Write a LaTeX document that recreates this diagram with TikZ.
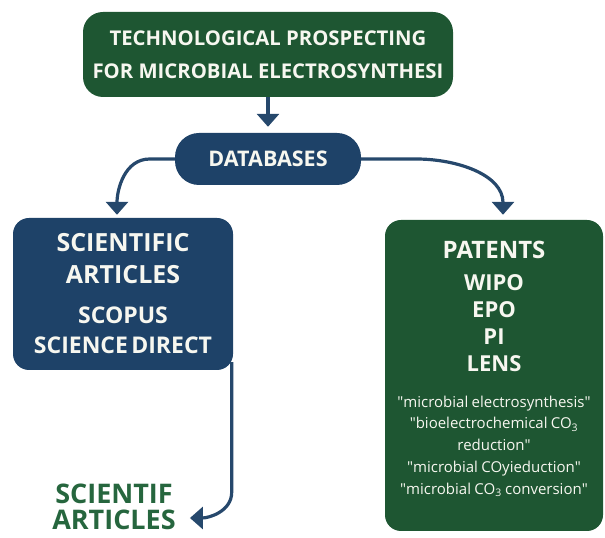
\documentclass[tikz,border=0pt]{standalone}
\usepackage{fontspec}
\setmainfont{Open Sans}
\usepackage{tikz}
\usetikzlibrary{arrows.meta, positioning, calc}
\usepackage{xcolor}
\definecolor{prospgreen}{RGB}{30,86,50}
\definecolor{prospblue}{RGB}{30,66,104}
\definecolor{prosparrow}{RGB}{38,72,108}
\definecolor{prosplabel}{RGB}{38,102,62}
\definecolor{prosptext}{RGB}{247,247,240}

\begin{document}
\begin{tikzpicture}[x=1pt, y=1pt,
    box/.style={rectangle, rounded corners=16pt, inner sep=0pt,
                text=prosptext, align=center, font=\bfseries},
    arrow/.style={-{Triangle[width=22pt,length=13pt]}, line width=3.2pt, prosparrow}
]
\useasboundingbox (0,0) rectangle (605,538);
\node[box, fill=prospgreen, rounded corners=20pt, minimum width=370pt, minimum height=85pt,
      font=\bfseries\fontsize{20.3}{33}\selectfont] (title) at (268,483.5)
      {TECHNOLOGICAL PROSPECTING\\FOR MICROBIAL ELECTROSYNTHESI};
\node[box, fill=prospblue, rounded corners=24pt, minimum width=186pt, minimum height=52pt,
      font=\bfseries\fontsize{21.5}{24}\selectfont] (db) at (268,379) {DATABASES};
\node[box, fill=prospblue, minimum width=220pt, minimum height=152pt, text width=214pt] (sci) at (123,244)
      {\fontsize{25}{32}\selectfont SCIENTIFIC\\ARTICLES\par
       \vspace{10pt}\fontsize{23}{30}\selectfont SCOPUS\\SCIENCE DIRECT\par};
\node[box, fill=prospgreen, minimum width=218pt, minimum height=311pt, text width=214pt] (pat) at (494,162.5)
      {\fontsize{24}{27}\selectfont PATENTS\par
       \vspace{5pt}\fontsize{22}{27}\selectfont WIPO\\EPO\\PI\\LENS\par
       \vspace{14pt}\fontsize{15}{21.8}\selectfont\mdseries
       \textquotedbl microbial electrosynthesis\textquotedbl\\
       \textquotedbl bioelectrochemical CO\textsubscript{3}\\
       reduction\textquotedbl\\
       \textquotedbl microbial COyieduction\textquotedbl\\
       \textquotedbl microbial CO\textsubscript{3} conversion\textquotedbl\par
       \vspace{-6pt}\hbox{}};
\node[font=\bfseries\fontsize{27}{26}\selectfont, text=prosplabel, align=center, inner sep=0pt]
      (lbl) at (114,31) {SCIENTIF\\ARTICLES};
\draw[arrow, shorten >=6pt] (title) -- (db);
\draw[arrow] (db.west) -- ++(-25,0) to[out=180, in=90] ([xshift=-6pt, yshift=3pt]sci.north);
\draw[arrow] (db.east) -- ++(55,0) to[out=0, in=90] ([xshift=9pt, yshift=5pt]pat.north);
\draw[arrow] ([xshift=-1.5pt, yshift=8pt]sci.south east) -- ++(0,-130)
    to[out=-90, in=0] ([xshift=14pt, yshift=-11pt]lbl.east);
\end{tikzpicture}
\end{document}
